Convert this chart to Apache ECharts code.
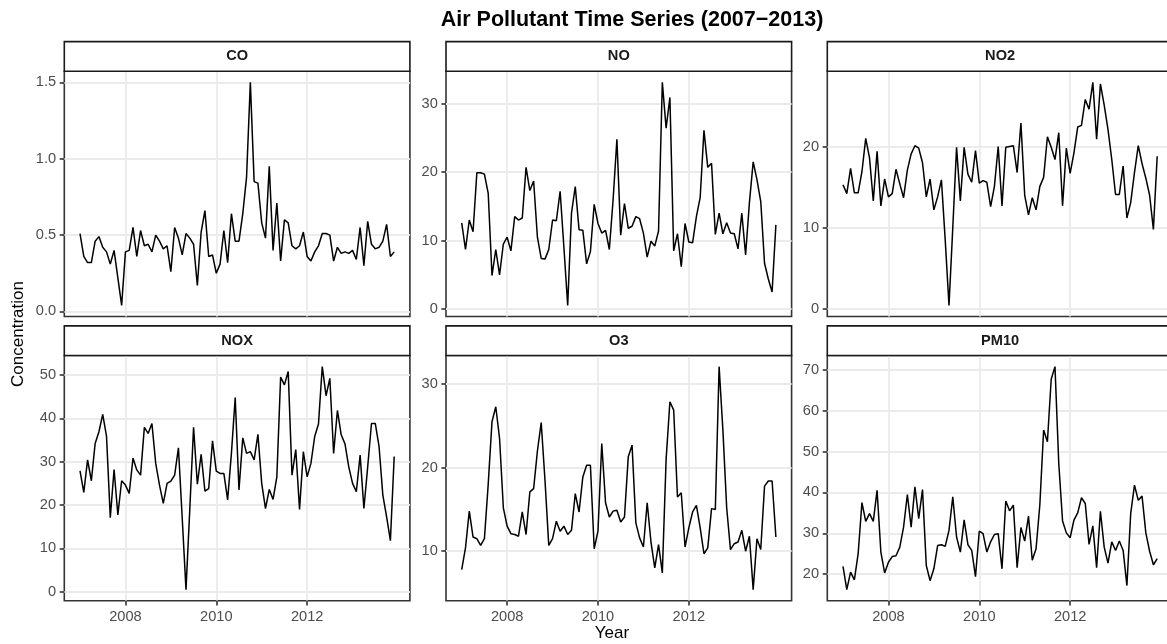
<!DOCTYPE html>
<html>
<head>
<meta charset="utf-8">
<title>Air Pollutant Time Series (2007-2013)</title>
<script src="https://cdn.jsdelivr.net/npm/echarts@6/dist/echarts.min.js"></script>
<style>
    html, body { margin: 0; padding: 0; background: #fff; }
    #chart { width: 1167px; height: 644px; }
</style>
</head>
<body>
<div id="chart"></div>
<script>
// monthly means, Jan 2007 .. Dec 2013
const pollutants = ['CO', 'NO', 'NO2', 'NOX', 'O3', 'PM10'];
const years = [2007, 2008, 2009, 2010, 2011, 2012, 2013];

const co = [
    0.51, 0.36, 0.32, 0.32, 0.46, 0.49, 0.42, 0.39, 0.31, 0.40,
    0.22, 0.04, 0.39, 0.40, 0.55, 0.36, 0.53, 0.43, 0.44, 0.39,
    0.50, 0.46, 0.41, 0.43, 0.26, 0.55, 0.48, 0.37, 0.51, 0.48,
    0.44, 0.17, 0.52, 0.66, 0.36, 0.37, 0.25, 0.31, 0.53, 0.32,
    0.64, 0.46, 0.46, 0.64, 0.88, 1.50, 0.85, 0.84, 0.58, 0.48,
    0.95, 0.40, 0.71, 0.33, 0.60, 0.58, 0.43, 0.41, 0.43, 0.52,
    0.36, 0.33, 0.39, 0.43, 0.51, 0.51, 0.50, 0.33, 0.42, 0.38,
    0.39, 0.38, 0.40, 0.34, 0.55, 0.30, 0.59, 0.44, 0.41, 0.42,
    0.46, 0.57, 0.36, 0.39
];
const no = [
    12.6, 8.7, 13.0, 11.3, 19.9, 19.9, 19.7, 16.9, 4.9, 8.7,
    5.0, 9.5, 10.5, 8.5, 13.5, 13.0, 13.3, 20.7, 17.3, 18.7,
    10.5, 7.4, 7.3, 8.7, 13.0, 12.9, 17.2, 9.0, 0.55, 14.0,
    17.9, 11.6, 11.5, 6.6, 8.4, 15.3, 12.5, 11.1, 11.5, 8.7,
    16.0, 24.8, 10.8, 15.4, 11.8, 12.1, 13.5, 13.2, 11.1, 7.6,
    9.9, 9.2, 11.4, 33.1, 26.4, 30.9, 8.5, 11.0, 6.2, 12.5,
    9.8, 9.7, 13.5, 16.3, 26.1, 20.7, 21.3, 10.9, 14.0, 11.0,
    12.6, 11.1, 11.0, 8.8, 14.0, 7.9, 15.5, 21.5, 18.9, 15.7,
    6.7, 4.4, 2.5, 12.3
];
const no2 = [
    15.3, 14.2, 17.3, 14.3, 14.3, 16.9, 21.0, 18.6, 13.3, 19.4,
    12.7, 16.0, 13.8, 14.2, 17.2, 15.4, 13.7, 17.1, 19.1, 20.1,
    19.8, 18.0, 13.8, 16.0, 12.2, 13.8, 15.9, 8.5, 0.45, 10.0,
    19.9, 13.3, 19.9, 16.6, 15.6, 19.5, 15.5, 15.8, 15.6, 12.6,
    15.1, 20.0, 12.7, 19.9, 20.0, 20.1, 16.8, 22.9, 14.0, 11.6,
    13.7, 12.2, 15.1, 16.2, 21.2, 19.9, 18.4, 21.7, 12.7, 19.8,
    16.7, 19.2, 22.4, 22.6, 25.8, 24.6, 27.9, 20.9, 27.7, 25.1,
    22.1, 18.4, 14.1, 14.1, 17.6, 11.2, 13.1, 16.8, 20.1, 17.9,
    16.1, 14.0, 9.8, 18.8
];
const nox = [
    27.9, 22.9, 30.4, 25.6, 34.2, 36.9, 40.9, 35.9, 17.1, 28.2,
    17.7, 25.6, 24.6, 22.7, 30.8, 28.1, 26.9, 37.9, 36.5, 38.8,
    29.6, 24.6, 20.4, 25.0, 25.5, 26.9, 33.2, 17.0, 0.5, 19.0,
    37.9, 24.8, 31.7, 23.2, 23.8, 34.8, 27.8, 27.3, 27.3, 21.2,
    31.9, 44.8, 23.5, 35.5, 31.9, 32.3, 30.4, 36.3, 25.0, 19.2,
    23.6, 21.3, 26.5, 49.5, 47.7, 50.8, 26.9, 32.8, 19.0, 32.3,
    26.5, 29.6, 35.8, 38.7, 51.9, 45.2, 49.2, 31.9, 41.8, 36.2,
    34.1, 28.8, 25.0, 23.1, 31.5, 19.2, 28.8, 38.8, 38.8, 33.5,
    22.3, 17.3, 11.8, 31.2
];
const o3 = [
    7.8, 10.4, 14.8, 11.7, 11.5, 10.7, 11.5, 18.0, 25.5, 27.3,
    23.5, 15.2, 13.0, 12.1, 12.0, 11.8, 14.7, 12.0, 17.1, 17.5,
    22.0, 25.4, 18.5, 10.7, 11.5, 13.6, 12.4, 13.0, 12.0, 12.5,
    16.9, 14.7, 18.9, 20.3, 20.3, 10.3, 12.4, 22.9, 15.8, 14.1,
    14.8, 14.9, 13.5, 14.1, 21.3, 22.7, 13.4, 11.6, 10.5, 15.8,
    11.1, 8.0, 10.8, 7.4, 21.0, 27.9, 26.9, 16.5, 17.0, 10.5,
    12.8, 14.7, 15.5, 12.8, 9.7, 10.4, 15.1, 15.0, 32.1, 24.5,
    15.2, 10.2, 10.9, 11.1, 12.5, 10.0, 11.8, 5.4, 11.5, 10.2,
    17.8, 18.4, 18.4, 11.7
];
const pm10 = [
    21.9, 16.2, 20.5, 18.6, 25.0, 37.5, 32.9, 34.8, 32.9, 40.5,
    25.4, 20.3, 22.9, 24.3, 24.5, 26.6, 31.5, 39.5, 31.5, 41.4,
    33.6, 40.7, 22.1, 18.4, 21.3, 27.0, 27.2, 26.8, 30.7, 38.9,
    29.1, 25.4, 33.3, 27.2, 25.8, 19.4, 30.5, 29.9, 25.4, 27.9,
    29.7, 29.9, 21.3, 37.9, 35.5, 36.9, 21.6, 31.4, 28.1, 34.2,
    23.4, 26.2, 37.0, 55.3, 52.4, 67.7, 70.8, 47.1, 33.0, 30.1,
    28.9, 33.2, 35.0, 38.7, 37.3, 27.3, 31.8, 21.6, 35.4, 26.6,
    22.7, 27.9, 25.8, 28.1, 25.8, 17.2, 34.8, 41.8, 38.1, 39.1,
    30.1, 25.6, 22.3, 23.8
];

// tick labels
const xTicks = [2008, 2010, 2012];
const coTicks = [0, 0.5, 1.0, 1.5];
const noTicks = [0, 10, 20, 30];
const no2Ticks = [0, 10, 20];
const noxTicks = [0, 10, 20, 30, 40, 50];
const o3Ticks = [10, 20, 30];
const pm10Ticks = [20, 30, 40, 50, 60, 70];

const panelValues = [co, no, no2, nox, o3, pm10];
const panelTicks = [coTicks, noTicks, no2Ticks, noxTicks, o3Ticks, pm10Ticks];

// month positions in decimal years
const months = [];
years.forEach(y => {
    for (let m = 0; m < 12; m++) months.push(y + m / 12);
});

// ggplot-like 5% expansion
function expand(arr) {
    const lo = Math.min(...arr), hi = Math.max(...arr);
    const pad = (hi - lo) * 0.05;
    return [lo - pad, hi + pad];
}

const FONT = '"Liberation Sans", Arial, Helvetica, sans-serif';
const colLeft = [64.3, 446, 827.3];
const panelW = 345.6;
const rowTop = [71.2, 355.5];
const panelH = 245.3;
const stripH = 29.6;

const chart = echarts.init(document.getElementById('chart'), null, { renderer: 'canvas' });
const xRange = expand(months);

const grids = [], xAxes = [], yAxes = [], series = [], graphics = [];

pollutants.forEach((name, i) => {
    const col = i % 3, row = Math.floor(i / 3);
    const yRange = expand(panelValues[i]);
    const ticks = panelTicks[i];
    const step = ticks[1] - ticks[0];
    const bottomRow = row === 1;

    grids.push({
        left: colLeft[col], top: rowTop[row], width: panelW, height: panelH,
        show: true, borderColor: '#333333', borderWidth: 1.6, backgroundColor: 'transparent',
        outerBoundsMode: 'none', containLabel: false,
    });
    xAxes.push({
        type: 'value', gridIndex: i, position: 'bottom',
        min: xRange[0], max: xRange[1],
        minInterval: 2, maxInterval: 2,
        axisLine: { show: false, onZero: false },
        axisTick: { show: bottomRow, length: 4.6, lineStyle: { color: '#333333', width: 1.6 }, customValues: xTicks },
        axisLabel: {
            show: bottomRow, customValues: xTicks, margin: 8.2,
            color: '#4D4D4D', fontSize: 14.6, fontFamily: FONT,
            formatter: v => String(Math.round(v)),
        },
        splitLine: { show: true, lineStyle: { color: '#EBEBEB', width: 1.8 } },
    });
    yAxes.push({
        type: 'value', gridIndex: i, position: 'left',
        min: yRange[0], max: yRange[1],
        minInterval: step, maxInterval: step,
        axisLine: { show: false, onZero: false },
        axisTick: { show: true, length: 4.6, lineStyle: { color: '#333333', width: 1.6 }, customValues: ticks },
        axisLabel: {
            customValues: ticks, margin: 8.2,
            color: '#4D4D4D', fontSize: 14.6, fontFamily: FONT,
            formatter: v => (name === 'CO' ? v.toFixed(1) : String(v)),
        },
        splitLine: { show: true, lineStyle: { color: '#EBEBEB', width: 1.8 } },
    });
    series.push({
        name: name, type: 'line', xAxisIndex: i, yAxisIndex: i,
        data: months.map((m, k) => [m, panelValues[i][k]]),
        showSymbol: false, symbol: 'none',
        lineStyle: { color: '#000000', width: 1.5 },
        clip: false, z: 3,
    });

    // facet strip
    graphics.push({
        type: 'rect', silent: true, z: 10,
        shape: { x: colLeft[col], y: rowTop[row] - stripH, width: panelW, height: stripH },
        style: { fill: '#FFFFFF', stroke: '#1A1A1A', lineWidth: 1.6 },
    });
    graphics.push({
        type: 'text', silent: true, z: 11,
        x: colLeft[col] + panelW / 2, y: rowTop[row] - stripH / 2,
        style: {
            text: name, fill: '#1A1A1A', font: 'bold 14.6px ' + FONT,
            textAlign: 'center', textVerticalAlign: 'middle',
        },
    });
});

graphics.push({
    type: 'text', silent: true,
    x: 632, y: 20,
    style: {
        text: 'Air Pollutant Time Series (2007\u22122013)', fill: '#000000',
        font: 'bold 21.5px ' + FONT, textAlign: 'center', textVerticalAlign: 'middle',
    },
});
graphics.push({
    type: 'text', silent: true,
    x: 612, y: 633,
    style: {
        text: 'Year', fill: '#000000', font: '17px ' + FONT,
        textAlign: 'center', textVerticalAlign: 'middle',
    },
});
graphics.push({
    type: 'text', silent: true,
    x: 18, y: 334, rotation: Math.PI / 2,
    style: {
        text: 'Concentration', fill: '#000000', font: '17px ' + FONT,
        textAlign: 'center', textVerticalAlign: 'middle',
    },
});

const option = {
    animation: false,
    backgroundColor: '#FFFFFF',
    grid: grids,
    xAxis: xAxes,
    yAxis: yAxes,
    series: series,
    graphic: graphics,
};

chart.setOption(option, true);
</script>
</body>
</html>
